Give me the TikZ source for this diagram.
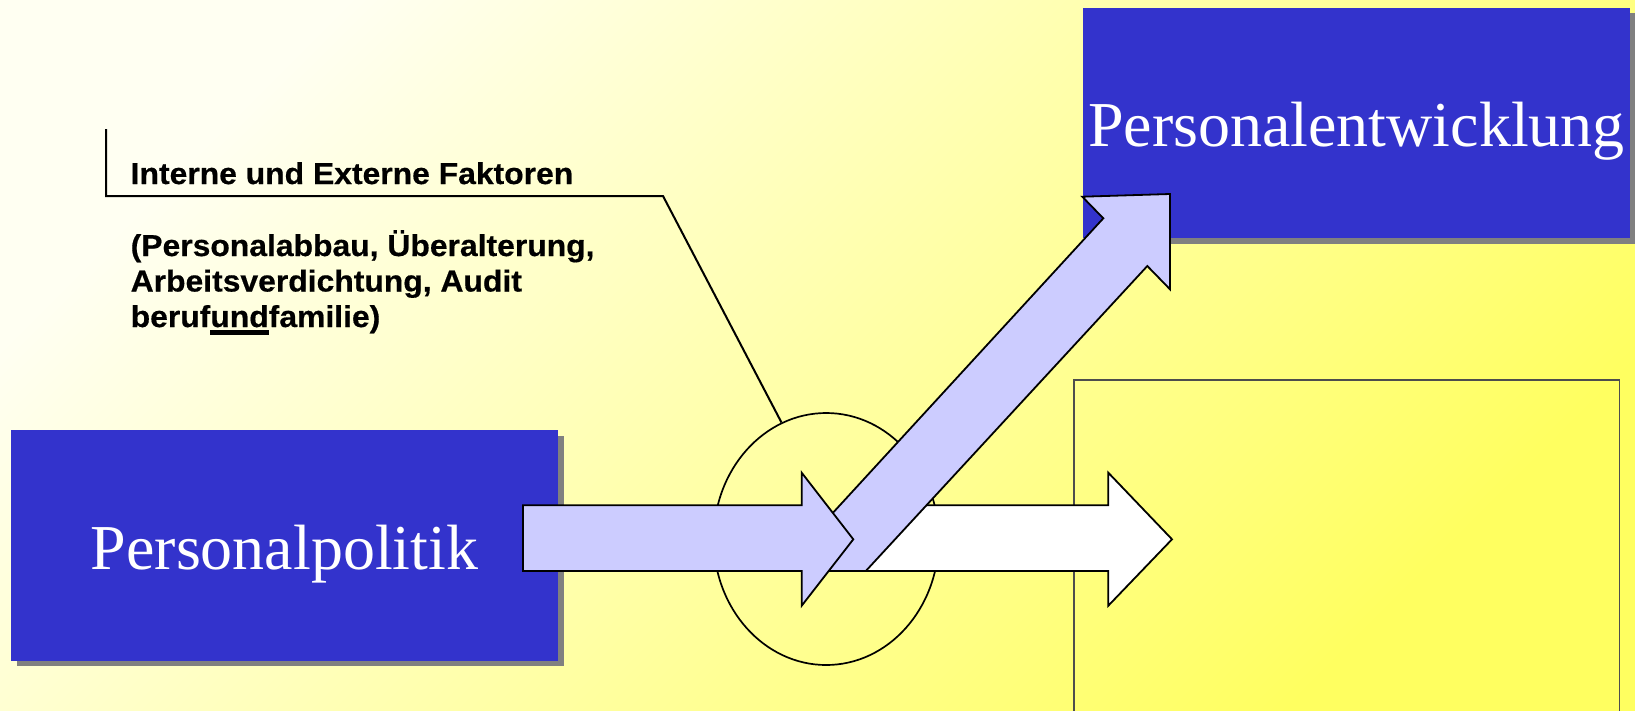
\documentclass[tikz,border=0pt]{standalone}
\usepackage{fontspec}
\usetikzlibrary{shadows,shapes.geometric}
\newfontfamily\serifbox{Liberation Serif}
\newfontfamily\calfont[FakeStretch=1.055,FakeBold=0.5]{Liberation Sans Bold}
\definecolor{bgA}{HTML}{FFFFF2}
\definecolor{bgB}{HTML}{FFFF60}
\definecolor{boxblue}{HTML}{3333CC}
\definecolor{arrowlilac}{HTML}{CCCCFF}
\definecolor{shadowgray}{HTML}{808080}
\definecolor{framegray}{HTML}{4D4D4D}
\newcommand{\undl}[1]{\setbox0\hbox{#1}\rlap{\rule[-8pt]{\wd0}{5pt}}\box0}
\begin{document}
\begin{tikzpicture}[x=1pt,y=-1pt,
  bluebox/.style={fill=boxblue, minimum width=547pt, minimum height=230.5pt,
    inner sep=0pt, text=white, font=\serifbox\fontsize{64}{70}\selectfont,
    text height=47pt, text depth=0pt,
    drop shadow={shadow xshift=5.5pt, shadow yshift=-5.5pt, fill=shadowgray, opacity=1}},
  caltext/.style={anchor=base west, inner sep=0pt, font=\calfont\fontsize{30.2}{34}\selectfont},
  blockarrow/.style={draw=black, line width=1.8pt, line join=miter},
  calloutline/.style={draw=black, line width=2pt},
]
\useasboundingbox (0,0) rectangle (1635,710);
\clip (0,0) rectangle (1635,710);
\shade[top color=bgA, bottom color=bgB, shading angle=45] (0,0) rectangle (1635,710);

% empty frame on the right
\draw[framegray, line width=1.3pt] (1074,380) rectangle (1619.5,760);

% blue boxes
\node[bluebox] (pp) at (284.5,545.5) {Personalpolitik};
\node[bluebox] (pe) at (1356.5,123) {Personalentwicklung};

% ellipse
\node[draw, ellipse, line width=1.7pt, minimum width=225pt, minimum height=252pt, inner sep=0pt] (ell) at (826.2,539) {};

% callout
\coordinate (k0) at (106,129);
\coordinate (k1) at (106,196);
\coordinate (k2) at (663,196);
\draw[calloutline] (k0) -- (k1) -- (k2) -- (ell.111.9);
\node[caltext] (t0) at (130.5,184) {Interne und Externe Faktoren};
\node[caltext] (t1) at (130.5,256) {(Personalabbau, Überalterung,};
\node[caltext] (t2) at (130.5,291.5) {Arbeitsverdichtung, Audit};
\node[caltext] (t3) at (130.5,327) {beruf\undl{und}familie)};

% white arrow
\draw[blockarrow, fill=white] (860,505.3) -- (1108.3,505.3) -- (1108.3,472.7) -- (1172,539.3)
  -- (1108.3,605.7) -- (1108.3,571) -- (860,571) -- cycle;
% diagonal arrow
\draw[blockarrow, fill=arrowlilac] (779.5,571) -- (1103.3,218.3) -- (1082.3,196.7) -- (1170,194)
  -- (1170,289.3) -- (1147.3,266) -- (865.8,571) -- cycle;
% horizontal arrow
\draw[blockarrow, fill=arrowlilac] (523,505.3) -- (801.7,505.3) -- (801.7,472.7) -- (853.3,539.3)
  -- (801.7,605.7) -- (801.7,571) -- (523,571) -- cycle;
\end{tikzpicture}
\end{document}
